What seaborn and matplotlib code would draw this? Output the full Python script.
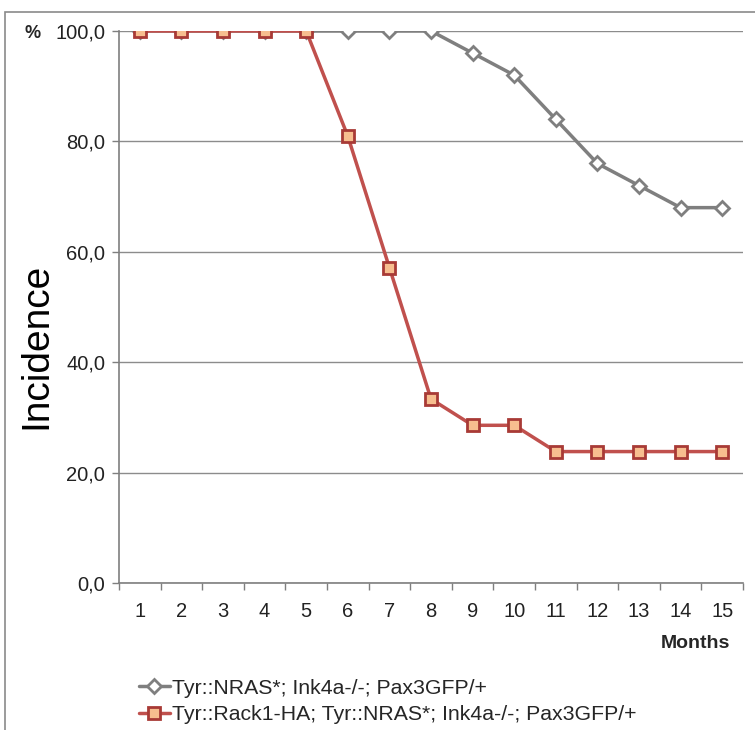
import matplotlib
matplotlib.use("Agg")
import matplotlib.pyplot as plt
import seaborn as sns
import pandas as pd
from matplotlib.patches import Rectangle
from matplotlib.ticker import FixedLocator

sns.set_theme(style="white")
plt.rcParams["font.family"] = ["Liberation Sans", "DejaVu Sans"]

months = list(range(1, 16))
nras = [100, 100, 100, 100, 100, 100, 100, 100, 96, 92, 84, 76, 72, 68, 68]
rack1 = [100, 100, 100, 100, 100, 80.95, 57.14, 33.33, 28.57, 28.57,
         23.81, 23.81, 23.81, 23.81, 23.81]
labels = ["Tyr::NRAS*; Ink4a-/-; Pax3GFP/+",
          "Tyr::Rack1-HA; Tyr::NRAS*; Ink4a-/-; Pax3GFP/+"]
y_ticks = [0, 20, 40, 60, 80, 100]

df = pd.DataFrame({"month": months, "nras": nras, "rack1": rack1})

fig = plt.figure(figsize=(7.55, 7.30), dpi=100)
ax = fig.add_axes([119 / 755, 1 - 583 / 730, (743 - 119) / 755, (583 - 31) / 730])

grey = "#7f7f7f"
red_line = "#c0504d"
red_edge = "#a83a36"
red_fill = "#f7be8f"

sns.lineplot(data=df, x="month", y="nras", ax=ax, color=grey, linewidth=2.5,
             marker="D", markersize=7, markerfacecolor="white",
             markeredgecolor=grey, markeredgewidth=2, label=labels[0])
sns.lineplot(data=df, x="month", y="rack1", ax=ax, color=red_line, linewidth=2.5,
             marker="s", markersize=9, markerfacecolor=red_fill,
             markeredgecolor=red_edge, markeredgewidth=2, label=labels[1])

ax.set_xlim(0.5, 15.5)
ax.set_ylim(0, 100)
ax.set_xticks(months)
ax.set_xticklabels([str(m) for m in months], fontsize=14.5, color="#222222")
ax.xaxis.set_minor_locator(FixedLocator([m - 0.5 for m in months] + [15.5]))
ax.tick_params(axis="x", which="major", length=0, pad=14)
ax.tick_params(axis="x", which="minor", length=5, width=1, color=grey,
               direction="out", bottom=True)
ax.set_yticks(y_ticks)
ax.set_yticklabels([f"{v:.1f}".replace(".", ",") for v in y_ticks],
                   fontsize=14.5, color="#222222")
ax.tick_params(axis="y", length=5, width=1, color=grey, direction="out",
               left=True, pad=5)

ax.yaxis.grid(True, color="#8c8c8c", linewidth=1)
ax.xaxis.grid(False)
for side in ["top", "right"]:
    ax.spines[side].set_visible(False)
for side in ["left", "bottom"]:
    ax.spines[side].set_color(grey)
    ax.spines[side].set_linewidth(1.2)

ax.set_xlabel("")
ax.set_ylabel("")
fig.text(36 / 755, 1 - 346 / 730, "Incidence", fontsize=28, rotation=90,
         ha="center", va="center", color="black")

fig.text(33 / 755, 1 - 33 / 730, "%", fontsize=13, fontweight="bold",
         ha="center", va="center")
fig.text(730 / 755, 1 - 643 / 730, "Months", fontsize=14, fontweight="bold",
         ha="right", va="center")

ax.legend(loc="upper left", bbox_to_anchor=(130 / 755, 1 - 670 / 730),
          bbox_transform=fig.transFigure, frameon=False, fontsize=15.3,
          handlelength=1.5, handletextpad=0.1, labelspacing=0.35,
          borderaxespad=0)

fig.patches.append(Rectangle((5 / 755, -0.05), 1.1, 1 - 12 / 730 + 0.05,
                             transform=fig.transFigure, fill=False,
                             edgecolor="#8a8a8a", linewidth=1.2))

fig.savefig("out.png", dpi=100)
